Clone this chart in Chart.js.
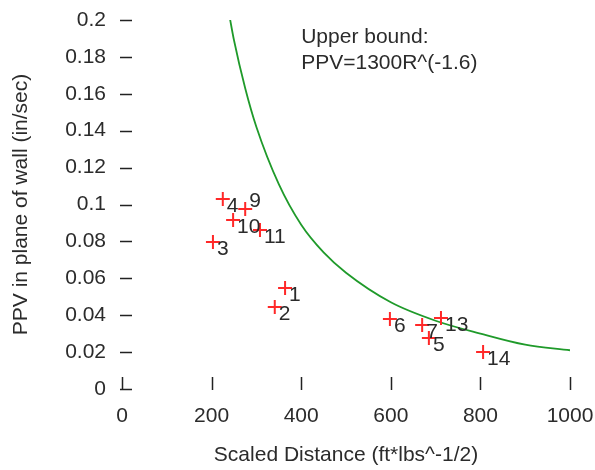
<!DOCTYPE html>
<html>
<head>
<meta charset="utf-8">
<script src="https://cdn.jsdelivr.net/npm/chart.js@4"></script>
<style>
  html, body { margin: 0; padding: 0; background: #fff; }
  #wrap { width: 595px; height: 470px; }
</style>
</head>
<body>
<div id="wrap"><canvas id="myChart" width="595" height="470"></canvas></div>
<script>
// measured blasts: scaled distance vs PPV, with point numbers
const shotLabels = ["1", "2", "3", "4", "5", "6", "7", "9", "10", "11", "13", "14"];
const shotDistance = [364, 341, 203, 225, 685, 598, 670, 275, 248, 308, 712, 806];
const shotPPV = [0.0547, 0.0444, 0.0797, 0.103, 0.0276, 0.0379, 0.0347, 0.0976, 0.0916, 0.0862, 0.0385, 0.0201];

// upper bound curve
const boundDistance = [240, 250, 275, 300, 350, 400, 450, 500, 600, 700, 800, 900, 1000];
const boundPPV = [0.202, 0.189, 0.163, 0.142, 0.111, 0.089, 0.074, 0.063, 0.047, 0.037, 0.030, 0.024, 0.021];

const xTicks = [0, 200, 400, 600, 800, 1000];
const yTicks = [0, 0.02, 0.04, 0.06, 0.08, 0.1, 0.12, 0.14, 0.16, 0.18, 0.2];

const noteLines = ["Upper bound:", "PPV=1300R^(-1.6)"];
const noteAt = { x: 400, y: 0.1905 };

const fontFamily = "'Liberation Sans', Arial, sans-serif";
const textColor = "#2b2b2b";

const scatterData = shotDistance.map((d, i) => ({ x: d, y: shotPPV[i] }));
const boundData = boundDistance.map((d, i) => ({ x: d, y: boundPPV[i] }));

// inward tick marks (the chart has no axis lines)
const tickMarks = {
    id: "tickMarks",
    afterDraw(chart) {
        const ctx = chart.ctx;
        const xs = chart.scales.x;
        const ys = chart.scales.y;
        const left = xs.getPixelForValue(0);
        const bottom = ys.getPixelForValue(0);
        ctx.save();
        ctx.strokeStyle = "#222";
        ctx.lineWidth = 1.5;
        ctx.beginPath();
        yTicks.forEach((v) => {
            const py = Math.round(ys.getPixelForValue(v)) + 0.5;
            ctx.moveTo(left - 2, py);
            ctx.lineTo(left + 10, py);
        });
        xTicks.forEach((v) => {
            const px = Math.round(xs.getPixelForValue(v)) + 0.5;
            ctx.moveTo(px, bottom + 1);
            ctx.lineTo(px, bottom - 12);
        });
        ctx.stroke();
        ctx.restore();
    }
};

// shot numbers next to each cross, plus the upper bound note
const pointNumbers = {
    id: "pointNumbers",
    afterDatasetsDraw(chart) {
        const ctx = chart.ctx;
        const meta = chart.getDatasetMeta(0);
        ctx.save();
        ctx.font = "21px " + fontFamily;
        ctx.fillStyle = textColor;
        ctx.textAlign = "left";
        ctx.textBaseline = "middle";
        meta.data.forEach((pt, i) => {
            const dy = shotLabels[i] === "9" ? -8 : 7;
            ctx.fillText(shotLabels[i], pt.x + 4, pt.y + dy);
        });
        const nx = chart.scales.x.getPixelForValue(noteAt.x);
        const ny = chart.scales.y.getPixelForValue(noteAt.y);
        noteLines.forEach((line, i) => {
            ctx.fillText(line, nx, ny + i * 26);
        });
        ctx.restore();
    }
};

const config = {
    type: "scatter",
    data: {
        datasets: [
            {
                label: "Shots",
                data: scatterData,
                pointStyle: "cross",
                pointRadius: 7,
                pointHoverRadius: 7,
                borderWidth: 2,
                borderColor: "rgb(255, 40, 40)",
                backgroundColor: "rgb(255, 40, 40)",
                order: 1
            },
            {
                label: "Upper bound",
                data: boundData,
                showLine: true,
                pointRadius: 0,
                borderColor: "#1f9a2a",
                borderWidth: 1.8,
                cubicInterpolationMode: "monotone",
                order: 2
            }
        ]
    },
    options: {
        responsive: false,
        animation: false,
        layout: { padding: { top: 20, right: 25, bottom: 0, left: 0 } },
        plugins: {
            legend: { display: false },
            tooltip: { enabled: false }
        },
        scales: {
            x: {
                type: "linear",
                min: 0,
                max: 1000,
                afterBuildTicks: (scale) => { scale.ticks = xTicks.map((v) => ({ value: v })); },
                afterFit: (scale) => {
                    scale.height = 81;
                    scale.paddingRight = 0;
                    scale.paddingLeft = 0;
                },
                grid: { display: false },
                border: { display: false },
                ticks: {
                    padding: 7,
                    color: textColor,
                    font: { family: fontFamily, size: 21 },
                    maxRotation: 0,
                    callback: (v) => String(v)
                },
                title: {
                    display: true,
                    text: "Scaled Distance (ft*lbs^-1/2)",
                    color: textColor,
                    font: { family: fontFamily, size: 21 },
                    padding: { top: 0, bottom: 2 }
                }
            },
            y: {
                type: "linear",
                min: 0,
                max: 0.2,
                afterBuildTicks: (scale) => { scale.ticks = yTicks.map((v) => ({ value: v })); },
                afterFit: (scale) => {
                    scale.width = 122;
                    scale.paddingTop = 0;
                    scale.paddingBottom = 0;
                },
                grid: { display: false },
                border: { display: false },
                ticks: {
                    padding: 8,
                    color: textColor,
                    font: { family: fontFamily, size: 21 },
                    callback: (v) => String(parseFloat(v.toFixed(2)))
                },
                title: {
                    display: true,
                    text: "PPV in plane of wall (in/sec)",
                    color: textColor,
                    font: { family: fontFamily, size: 21 },
                    padding: { top: 9, bottom: 0 }
                }
            }
        }
    },
    plugins: [tickMarks, pointNumbers]
};

const ctx = document.querySelector("#myChart").getContext("2d");
new Chart(ctx, config);
</script>
</body>
</html>
